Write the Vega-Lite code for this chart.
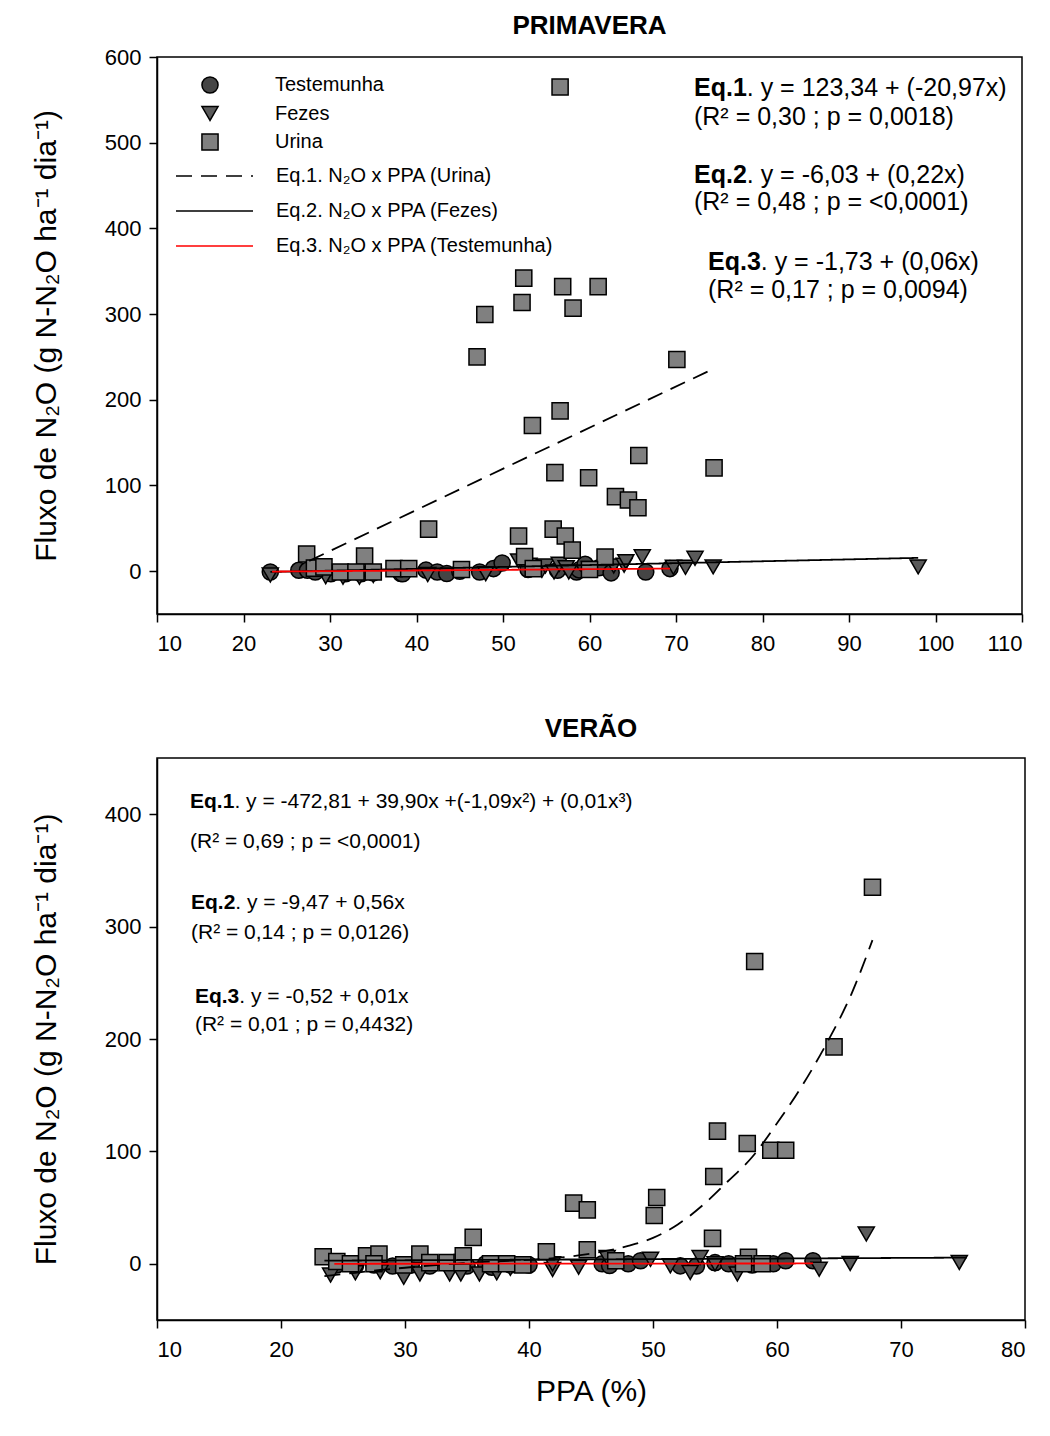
{
  "$schema": "https://vega.github.io/schema/vega-lite/v6.json",
  "padding": {"left": 30, "top": 12, "right": 10, "bottom": 10},
  "spacing": 60,
  "datasets": {
    "pts1": [
      {"serie":"Testemunha","x":23.1,"y":-1},{"serie":"Testemunha","x":26.4,"y":1},{"serie":"Testemunha","x":27.4,"y":1},{"serie":"Testemunha","x":28.3,"y":-1},{"serie":"Testemunha","x":30.1,"y":-3},{"serie":"Testemunha","x":31.8,"y":-3},{"serie":"Testemunha","x":33.6,"y":-3},{"serie":"Testemunha","x":35,"y":-2},{"serie":"Testemunha","x":38.2,"y":-2.7},{"serie":"Testemunha","x":38.4,"y":-3},{"serie":"Testemunha","x":41.1,"y":1.2},{"serie":"Testemunha","x":42.4,"y":-1},{"serie":"Testemunha","x":43.5,"y":-2.7},{"serie":"Testemunha","x":45,"y":0},{"serie":"Testemunha","x":47.3,"y":-1},{"serie":"Testemunha","x":48.9,"y":3},{"serie":"Testemunha","x":49.9,"y":9.5},{"serie":"Testemunha","x":52.9,"y":2},{"serie":"Testemunha","x":56.3,"y":1},{"serie":"Testemunha","x":58.5,"y":-1},{"serie":"Testemunha","x":58.8,"y":1.5},{"serie":"Testemunha","x":59.5,"y":8},{"serie":"Testemunha","x":61.1,"y":4},{"serie":"Testemunha","x":62.5,"y":-2},{"serie":"Testemunha","x":66.5,"y":-1},{"serie":"Testemunha","x":69.3,"y":3},
      {"serie":"Fezes","x":23.1,"y":-4.5},{"serie":"Fezes","x":29.5,"y":-6.5},{"serie":"Fezes","x":31.5,"y":-7},{"serie":"Fezes","x":33.4,"y":-7},{"serie":"Fezes","x":35,"y":-5},{"serie":"Fezes","x":41.3,"y":-4},{"serie":"Fezes","x":48,"y":-3},{"serie":"Fezes","x":51.8,"y":12},{"serie":"Fezes","x":53,"y":7},{"serie":"Fezes","x":54.5,"y":1},{"serie":"Fezes","x":54.9,"y":6},{"serie":"Fezes","x":55.9,"y":-1},{"serie":"Fezes","x":56.5,"y":8},{"serie":"Fezes","x":57.3,"y":4},{"serie":"Fezes","x":57.6,"y":-1},{"serie":"Fezes","x":60,"y":3},{"serie":"Fezes","x":62.8,"y":6},{"serie":"Fezes","x":64,"y":7},{"serie":"Fezes","x":64.2,"y":11},{"serie":"Fezes","x":66.1,"y":16.7},{"serie":"Fezes","x":69.7,"y":4.5},{"serie":"Fezes","x":71.1,"y":4.5},{"serie":"Fezes","x":72.2,"y":15},{"serie":"Fezes","x":74.3,"y":5},{"serie":"Fezes","x":98,"y":5},
      {"serie":"Urina","x":56.6,"y":565},{"serie":"Urina","x":52.4,"y":342},{"serie":"Urina","x":56.9,"y":332},{"serie":"Urina","x":61.0,"y":332},{"serie":"Urina","x":52.2,"y":313.5},{"serie":"Urina","x":58.1,"y":307},{"serie":"Urina","x":47.9,"y":299.5},{"serie":"Urina","x":47.0,"y":250},{"serie":"Urina","x":70.1,"y":247},{"serie":"Urina","x":56.6,"y":187},{"serie":"Urina","x":53.4,"y":170},{"serie":"Urina","x":65.7,"y":135},{"serie":"Urina","x":56.0,"y":115},{"serie":"Urina","x":59.9,"y":109},{"serie":"Urina","x":74.4,"y":120.5},{"serie":"Urina","x":63.0,"y":87},{"serie":"Urina","x":64.5,"y":83},{"serie":"Urina","x":65.6,"y":74},{"serie":"Urina","x":41.4,"y":49},{"serie":"Urina","x":51.8,"y":41},{"serie":"Urina","x":55.8,"y":49},{"serie":"Urina","x":57.2,"y":41},{"serie":"Urina","x":58.0,"y":24.5},{"serie":"Urina","x":52.5,"y":17},{"serie":"Urina","x":61.8,"y":16.5},{"serie":"Urina","x":27.3,"y":20},{"serie":"Urina","x":34.0,"y":17.5},{"serie":"Urina","x":28.2,"y":3.5},{"serie":"Urina","x":29.3,"y":5},{"serie":"Urina","x":31.2,"y":-1},{"serie":"Urina","x":33,"y":-1},{"serie":"Urina","x":35,"y":-1},{"serie":"Urina","x":37.4,"y":3},{"serie":"Urina","x":39.1,"y":3},{"serie":"Urina","x":45.2,"y":2},{"serie":"Urina","x":53.5,"y":3},{"serie":"Urina","x":60,"y":2}
    ],
    "pts2": [
      {"serie":"Testemunha","x":24.5,"y":-1},{"serie":"Testemunha","x":26,"y":-2},{"serie":"Testemunha","x":27.5,"y":-1},{"serie":"Testemunha","x":29,"y":-2},{"serie":"Testemunha","x":30.5,"y":-1},{"serie":"Testemunha","x":32,"y":-2},{"serie":"Testemunha","x":33.5,"y":0},{"serie":"Testemunha","x":35,"y":-2},{"serie":"Testemunha","x":36.5,"y":0},{"serie":"Testemunha","x":37,"y":-3},{"serie":"Testemunha","x":38.5,"y":-1},{"serie":"Testemunha","x":40,"y":-1},{"serie":"Testemunha","x":45.9,"y":0},{"serie":"Testemunha","x":46.5,"y":-1.5},{"serie":"Testemunha","x":48,"y":0},{"serie":"Testemunha","x":49,"y":2.7},{"serie":"Testemunha","x":52.2,"y":-1.8},{"serie":"Testemunha","x":53.5,"y":-2},{"serie":"Testemunha","x":55,"y":1},{"serie":"Testemunha","x":56.1,"y":0},{"serie":"Testemunha","x":58,"y":-1},{"serie":"Testemunha","x":59.7,"y":0},{"serie":"Testemunha","x":60.7,"y":2.7},{"serie":"Testemunha","x":62.9,"y":2.7},
      {"serie":"Fezes","x":24,"y":-10},{"serie":"Fezes","x":26,"y":-8},{"serie":"Fezes","x":28,"y":-7},{"serie":"Fezes","x":29.9,"y":-12},{"serie":"Fezes","x":31.2,"y":-9},{"serie":"Fezes","x":33.6,"y":-9},{"serie":"Fezes","x":34.5,"y":-9},{"serie":"Fezes","x":36,"y":-9},{"serie":"Fezes","x":37.4,"y":-8},{"serie":"Fezes","x":38.5,"y":-4},{"serie":"Fezes","x":41.9,"y":-5},{"serie":"Fezes","x":41.9,"y":0},{"serie":"Fezes","x":44,"y":-3},{"serie":"Fezes","x":46.3,"y":5.6},{"serie":"Fezes","x":49.8,"y":4},{"serie":"Fezes","x":51.4,"y":-1.8},{"serie":"Fezes","x":53,"y":-7.7},{"serie":"Fezes","x":53.8,"y":5.6},{"serie":"Fezes","x":55,"y":0},{"serie":"Fezes","x":56.8,"y":-9},{"serie":"Fezes","x":63.4,"y":-4.8},{"serie":"Fezes","x":65.9,"y":0.3},{"serie":"Fezes","x":67.2,"y":26.5},{"serie":"Fezes","x":74.7,"y":1.2},
      {"serie":"Urina","x":67.7,"y":335},{"serie":"Urina","x":58.2,"y":269},{"serie":"Urina","x":64.6,"y":193},{"serie":"Urina","x":55.2,"y":118},{"serie":"Urina","x":57.6,"y":107},{"serie":"Urina","x":59.5,"y":101},{"serie":"Urina","x":60.7,"y":101},{"serie":"Urina","x":43.6,"y":54},{"serie":"Urina","x":44.7,"y":48},{"serie":"Urina","x":50.3,"y":59},{"serie":"Urina","x":50.1,"y":43},{"serie":"Urina","x":54.9,"y":77.7},{"serie":"Urina","x":54.8,"y":22.6},{"serie":"Urina","x":44.7,"y":12.5},{"serie":"Urina","x":35.5,"y":23.5},{"serie":"Urina","x":41.4,"y":10.7},{"serie":"Urina","x":23.4,"y":6.3},{"serie":"Urina","x":24.5,"y":2},{"serie":"Urina","x":25.6,"y":0},{"serie":"Urina","x":26.9,"y":7},{"serie":"Urina","x":27.9,"y":8.6},{"serie":"Urina","x":27.5,"y":0},{"serie":"Urina","x":29.9,"y":-1},{"serie":"Urina","x":31.2,"y":8.6},{"serie":"Urina","x":32,"y":1},{"serie":"Urina","x":33.4,"y":1},{"serie":"Urina","x":34.6,"y":1},{"serie":"Urina","x":34.7,"y":7},{"serie":"Urina","x":36.9,"y":0},{"serie":"Urina","x":38.2,"y":0},{"serie":"Urina","x":39.5,"y":-1},{"serie":"Urina","x":47,"y":2.7},{"serie":"Urina","x":57.7,"y":5.7},{"serie":"Urina","x":58.8,"y":0},{"serie":"Urina","x":57.3,"y":0}
    ],
    "lines1": [
      {"eq":"Eq.1. N₂O x PPA (Urina)","x":27.6,"y":12},{"eq":"Eq.1. N₂O x PPA (Urina)","x":74.5,"y":237},
      {"eq":"Eq.2. N₂O x PPA (Fezes)","x":23.1,"y":-0.95},{"eq":"Eq.2. N₂O x PPA (Fezes)","x":98,"y":15.5},
      {"eq":"Eq.3. N₂O x PPA (Testemunha)","x":23.3,"y":-0.5},{"eq":"Eq.3. N₂O x PPA (Testemunha)","x":69.3,"y":3}
    ],
    "lines2": [
      {"eq":"Eq.1. N₂O x PPA (Urina)","x":23.5,"y":-11},{"eq":"Eq.1. N₂O x PPA (Urina)","x":26,"y":-8},{"eq":"Eq.1. N₂O x PPA (Urina)","x":28,"y":-5.5},{"eq":"Eq.1. N₂O x PPA (Urina)","x":30,"y":-3.5},{"eq":"Eq.1. N₂O x PPA (Urina)","x":32,"y":-1.5},{"eq":"Eq.1. N₂O x PPA (Urina)","x":34,"y":0},{"eq":"Eq.1. N₂O x PPA (Urina)","x":36,"y":1.5},{"eq":"Eq.1. N₂O x PPA (Urina)","x":38,"y":2.5},{"eq":"Eq.1. N₂O x PPA (Urina)","x":40,"y":3.5},{"eq":"Eq.1. N₂O x PPA (Urina)","x":42,"y":5},{"eq":"Eq.1. N₂O x PPA (Urina)","x":44,"y":7.5},{"eq":"Eq.1. N₂O x PPA (Urina)","x":46,"y":11},{"eq":"Eq.1. N₂O x PPA (Urina)","x":48,"y":16},{"eq":"Eq.1. N₂O x PPA (Urina)","x":50,"y":23},{"eq":"Eq.1. N₂O x PPA (Urina)","x":52,"y":35},{"eq":"Eq.1. N₂O x PPA (Urina)","x":54,"y":52},{"eq":"Eq.1. N₂O x PPA (Urina)","x":56,"y":73},{"eq":"Eq.1. N₂O x PPA (Urina)","x":58,"y":95},{"eq":"Eq.1. N₂O x PPA (Urina)","x":60,"y":125},{"eq":"Eq.1. N₂O x PPA (Urina)","x":62,"y":158},{"eq":"Eq.1. N₂O x PPA (Urina)","x":64,"y":196},{"eq":"Eq.1. N₂O x PPA (Urina)","x":66,"y":240},{"eq":"Eq.1. N₂O x PPA (Urina)","x":67.7,"y":288},
      {"eq":"Eq.2. N₂O x PPA (Fezes)","x":23.5,"y":2.8},{"eq":"Eq.2. N₂O x PPA (Fezes)","x":75.3,"y":5.5},
      {"eq":"Eq.3. N₂O x PPA (Testemunha)","x":24.3,"y":0},{"eq":"Eq.3. N₂O x PPA (Testemunha)","x":62.9,"y":0.3}
    ],
    "bold1": [
      {"x":72.08,"y":563.6,"t":"Eq.1"},{"x":72.08,"y":462,"t":"Eq.2"},{"x":73.7,"y":360.6,"t":"Eq.3"}
    ],
    "reg1": [
      {"x":78.18,"y":563.6,"t":". y = 123,34 + (-20,97x)"},{"x":72.08,"y":529.8,"t":"(R² = 0,30 ; p = 0,0018)"},
      {"x":78.18,"y":462,"t":". y = -6,03 + (0,22x)"},{"x":72.08,"y":430.6,"t":"(R² = 0,48 ; p = <0,0001)"},
      {"x":79.8,"y":360.6,"t":". y = -1,73 + (0,06x)"},{"x":73.7,"y":327.9,"t":"(R² = 0,17 ; p = 0,0094)"}
    ],
    "bold2": [
      {"x":12.66,"y":410.7,"t":"Eq.1"},{"x":12.74,"y":321.4,"t":"Eq.2"},{"x":13.06,"y":237.5,"t":"Eq.3"}
    ],
    "reg2": [
      {"x":16.24,"y":410.7,"t":". y = -472,81 + 39,90x +(-1,09x²) + (0,01x³)"},{"x":12.66,"y":375,"t":"(R² = 0,69 ; p = <0,0001)"},
      {"x":16.32,"y":321.4,"t":". y = -9,47 + 0,56x"},{"x":12.74,"y":294.6,"t":"(R² = 0,14 ; p = 0,0126)"},
      {"x":16.64,"y":237.5,"t":". y = -0,52 + 0,01x"},{"x":13.06,"y":212.5,"t":"(R² = 0,01 ; p = 0,4432)"}
    ]
  },
  "vconcat": [
    {
      "title": {"text": "PRIMAVERA", "offset": 7},
      "width": 865,
      "height": 557,
      "resolve": {
        "scale": {"shape": "independent", "fill": "independent", "stroke": "independent", "strokeDash": "independent"},
        "legend": {"shape": "independent", "fill": "independent", "stroke": "independent", "strokeDash": "independent"}
      },
      "layer": [
        {
          "data": {"name": "pts1"},
          "mark": {"type": "point", "filled": true, "strokeWidth": 1.5, "size": 260, "opacity": 1},
          "encoding": {
            "x": {"field": "x", "type": "quantitative", "scale": {"domain": [10, 110], "nice": false, "zero": false}, "axis": {"values": [10,20,30,40,50,60,70,80,90,100,110], "title": null}},
            "y": {"field": "y", "type": "quantitative", "scale": {"domain": [-50, 600], "nice": false, "zero": false}, "axis": {"values": [0,100,200,300,400,500,600], "title": "Fluxo de N₂O (g N-N₂O ha⁻¹ dia⁻¹)"}},
            "shape": {"field": "serie", "type": "nominal", "scale": {"domain": ["Testemunha","Fezes","Urina"], "range": ["circle","triangle-down","square"]},
              "legend": {"title": null, "orient": "none", "legendX": 43, "legendY": 19, "symbolSize": 260, "symbolStrokeWidth": 1.5, "labelFontSize": 20, "labelOffset": 55, "labelLimit": 500, "clipHeight": 18, "rowPadding": 8.5, "padding": 0, "symbolOffset": 0}},
            "fill": {"field": "serie", "type": "nominal", "scale": {"domain": ["Testemunha","Fezes","Urina"], "range": ["#454545","#5a5a5a","#808080"]},
              "legend": {"title": null, "orient": "none", "legendX": 43, "legendY": 19, "symbolSize": 260, "symbolStrokeWidth": 1.5, "labelFontSize": 20, "labelOffset": 55, "labelLimit": 500, "clipHeight": 18, "rowPadding": 8.5, "padding": 0, "symbolOffset": 0}},
            "stroke": {"field": "serie", "type": "nominal", "scale": {"domain": ["Testemunha","Fezes","Urina"], "range": ["black","black","black"]},
              "legend": {"title": null, "orient": "none", "legendX": 43, "legendY": 19, "symbolSize": 260, "symbolStrokeWidth": 1.5, "labelFontSize": 20, "labelOffset": 55, "labelLimit": 500, "clipHeight": 18, "rowPadding": 8.5, "padding": 0, "symbolOffset": 0}}
          }
        },
        {
          "data": {"name": "lines1"},
          "mark": {"type": "line", "strokeWidth": 1.8},
          "encoding": {
            "x": {"field": "x", "type": "quantitative"},
            "y": {"field": "y", "type": "quantitative"},
            "stroke": {"field": "eq", "type": "nominal", "scale": {"domain": ["Eq.1. N₂O x PPA (Urina)","Eq.2. N₂O x PPA (Fezes)","Eq.3. N₂O x PPA (Testemunha)"], "range": ["black","black","#ff0000"]},
              "legend": {"title": null, "orient": "none", "legendX": 18, "legendY": 109, "symbolType": "stroke", "symbolSize": 5929, "symbolStrokeWidth": 1.5, "labelOffset": 22, "labelLimit": 500, "clipHeight": 20, "rowPadding": 15, "labelFontSize": 20, "padding": 0}},
            "strokeDash": {"field": "eq", "type": "nominal", "scale": {"domain": ["Eq.1. N₂O x PPA (Urina)","Eq.2. N₂O x PPA (Fezes)","Eq.3. N₂O x PPA (Testemunha)"], "range": [[16,9],[1,0],[1,0]]},
              "legend": {"title": null, "orient": "none", "legendX": 18, "legendY": 109, "symbolType": "stroke", "symbolSize": 5929, "symbolStrokeWidth": 1.5, "labelOffset": 22, "labelLimit": 500, "clipHeight": 20, "rowPadding": 15, "labelFontSize": 20, "padding": 0}}
          }
        },
        {
          "data": {"name": "bold1"},
          "mark": {"type": "text", "align": "left", "baseline": "middle", "fontSize": 25, "fontWeight": "bold", "color": "black"},
          "encoding": {"x": {"field": "x", "type": "quantitative"}, "y": {"field": "y", "type": "quantitative"}, "text": {"field": "t"}}
        },
        {
          "data": {"name": "reg1"},
          "mark": {"type": "text", "align": "left", "baseline": "middle", "fontSize": 25, "color": "black"},
          "encoding": {"x": {"field": "x", "type": "quantitative"}, "y": {"field": "y", "type": "quantitative"}, "text": {"field": "t"}}
        }
      ]
    },
    {
      "title": {"text": "VERÃO", "offset": 16},
      "width": 868,
      "height": 562,
      "layer": [
        {
          "data": {"name": "pts2"},
          "mark": {"type": "point", "filled": true, "stroke": "black", "strokeWidth": 1.5, "size": 260, "opacity": 1},
          "encoding": {
            "x": {"field": "x", "type": "quantitative", "scale": {"domain": [10, 80], "nice": false, "zero": false}, "axis": {"values": [10,20,30,40,50,60,70,80], "title": "PPA (%)"}},
            "y": {"field": "y", "type": "quantitative", "scale": {"domain": [-50, 450], "nice": false, "zero": false}, "axis": {"values": [0,100,200,300,400], "title": "Fluxo de N₂O (g N-N₂O ha⁻¹ dia⁻¹)"}},
            "shape": {"field": "serie", "type": "nominal", "scale": {"domain": ["Testemunha","Fezes","Urina"], "range": ["circle","triangle-down","square"]}, "legend": null},
            "fill": {"field": "serie", "type": "nominal", "scale": {"domain": ["Testemunha","Fezes","Urina"], "range": ["#454545","#5a5a5a","#808080"]}, "legend": null}
          }
        },
        {
          "data": {"name": "lines2"},
          "mark": {"type": "line", "strokeWidth": 1.8, "interpolate": "monotone"},
          "encoding": {
            "x": {"field": "x", "type": "quantitative"},
            "y": {"field": "y", "type": "quantitative"},
            "stroke": {"field": "eq", "type": "nominal", "scale": {"domain": ["Eq.1. N₂O x PPA (Urina)","Eq.2. N₂O x PPA (Fezes)","Eq.3. N₂O x PPA (Testemunha)"], "range": ["black","black","#ff0000"]}, "legend": null},
            "strokeDash": {"field": "eq", "type": "nominal", "scale": {"domain": ["Eq.1. N₂O x PPA (Urina)","Eq.2. N₂O x PPA (Fezes)","Eq.3. N₂O x PPA (Testemunha)"], "range": [[16,9],[1,0],[1,0]]}, "legend": null}
          }
        },
        {
          "data": {"name": "bold2"},
          "mark": {"type": "text", "align": "left", "baseline": "middle", "fontSize": 21, "fontWeight": "bold", "color": "black"},
          "encoding": {"x": {"field": "x", "type": "quantitative"}, "y": {"field": "y", "type": "quantitative"}, "text": {"field": "t"}}
        },
        {
          "data": {"name": "reg2"},
          "mark": {"type": "text", "align": "left", "baseline": "middle", "fontSize": 21, "color": "black"},
          "encoding": {"x": {"field": "x", "type": "quantitative"}, "y": {"field": "y", "type": "quantitative"}, "text": {"field": "t"}}
        }
      ]
    }
  ],
  "resolve": {
    "scale": {"x": "independent", "y": "independent", "shape": "independent", "fill": "independent", "stroke": "independent", "strokeDash": "independent"},
    "legend": {"shape": "independent", "fill": "independent", "stroke": "independent", "strokeDash": "independent"}
  },
  "config": {
    "font": "Liberation Sans",
    "background": "white",
    "view": {"stroke": "black", "strokeWidth": 1.5},
    "axis": {"grid": false, "domainColor": "black", "domainWidth": 1.5, "tickColor": "black", "tickWidth": 1.5, "tickSize": 8, "labelColor": "black", "labelFontSize": 22, "labelFont": "Liberation Sans", "labelPadding": 8, "titleColor": "black", "titleFontSize": 30, "titleFontWeight": "normal", "titleFont": "Liberation Sans"},
    "axisY": {"titlePadding": 43},
    "axisX": {"titlePadding": 16, "labelPadding": 11},
    "title": {"fontSize": 26, "fontWeight": "bold", "color": "black", "font": "Liberation Sans"},
    "legend": {"labelFont": "Liberation Sans", "labelColor": "black"}
  }
}
